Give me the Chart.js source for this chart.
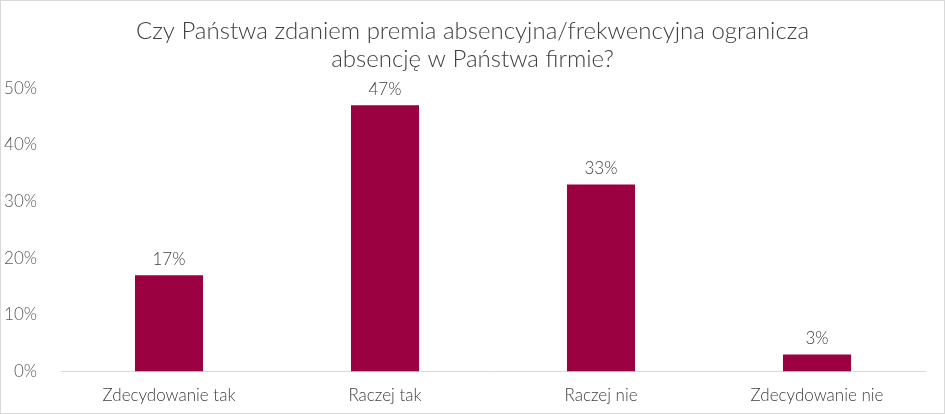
<!DOCTYPE html>
<html><head><meta charset="utf-8">
<script src="https://cdn.jsdelivr.net/npm/chart.js@4"></script>
<style>
html,body{margin:0;padding:0;background:#fff;}
#wrap{width:945px;height:414px;box-sizing:border-box;border:1px solid #d9d9d9;position:relative;}
canvas{display:block;}
</style></head>
<body><div id="wrap"><canvas id="c" width="943" height="412"></canvas></div>
<script>
const categories = ["Zdecydowanie tak", "Raczej tak", "Raczej nie", "Zdecydowanie nie"];
const values = [17, 47, 33, 3];
const titleLines = ["Czy Państwa zdaniem premia absencyjna/frekwencyjna ogranicza", "absencję w Państwa firmie?"];

const FONT = "Lato, 'Open Sans', sans-serif";
const labelPlugin = {
  id: 'vals',
  afterDatasetsDraw(chart) {
    const ctx = chart.ctx;
    const meta = chart.getDatasetMeta(0);
    ctx.save();
    ctx.font = "300 17px " + FONT;
    ctx.fillStyle = "#404040";
    ctx.textAlign = "center";
    ctx.textBaseline = "middle";
    meta.data.forEach((bar, i) => {
      ctx.fillText(values[i] + "%", bar.x, bar.y - 16);
    });
    // title centred on the whole canvas
    const t = chart.titleBlock;
    ctx.font = "300 24px " + FONT;
    const lh = 24 * 1.17;
    titleLines.forEach((line, i) => {
      ctx.fillText(line, chart.width / 2, t.top + 17 + lh * (i + 0.5) - 1);
    });
    ctx.restore();
  }
};

new Chart(document.getElementById('c'), {
  type: 'bar',
  data: {
    labels: categories,
    datasets: [{ data: values, backgroundColor: '#9B0040', barPercentage: 0.63, categoryPercentage: 0.5 }]
  },
  options: {
    responsive: false,
    animation: false,
    devicePixelRatio: 1,
    layout: { padding: { left: 0, right: 19, top: 0, bottom: 1 } },
    plugins: {
      legend: { display: false },
      tooltip: { enabled: false },
      title: {
        display: true,
        text: titleLines,
        color: 'rgba(0,0,0,0)',
        font: { family: FONT, size: 24, weight: 300, lineHeight: 1.17 },
        padding: { top: 17, bottom: 14 }
      }
    },
    scales: {
      x: {
        grid: { display: false },
        border: { display: true, color: '#d9d9d9', width: 1 },
        ticks: { color: '#404040', font: { family: FONT, size: 17, weight: 300 }, padding: 6 }
      },
      y: {
        min: 0, max: 50,
        afterFit: s => { s.width = 60; },
        grid: { display: false },
        border: { display: false },
        ticks: { stepSize: 10, color: '#595959', padding: 16,
          font: { family: FONT, size: 17, weight: 300 },
          callback: v => v + '%' }
      }
    }
  },
  plugins: [labelPlugin]
});
</script></body></html>
